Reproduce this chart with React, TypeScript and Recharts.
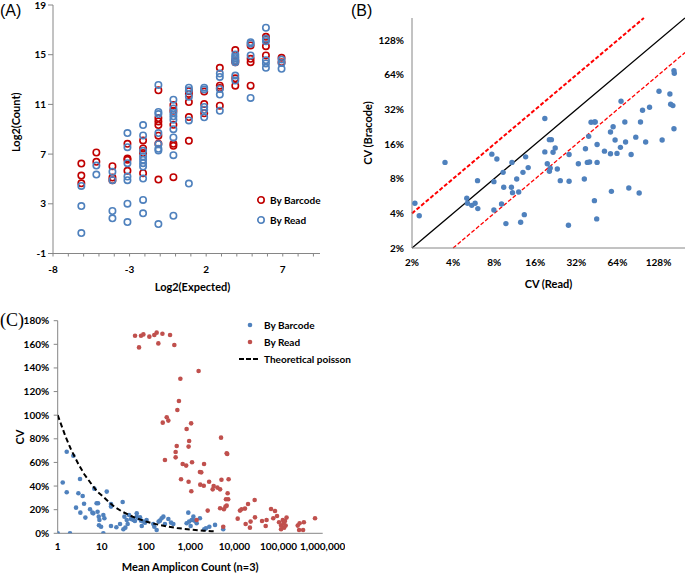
import { ScatterChart, Scatter, XAxis, YAxis, ReferenceLine, Legend, Label } from "recharts"

const FONT = "Lato, 'Liberation Sans', Arial, sans-serif"
const BLUE = "#4f81bd"
const RED_A = "#c00000"
const RED_C = "#c0504d"
const AXIS = "#868686"

// (A) log2 expected vs log2 count, one column of replicates per expected value
const aExpected = [-6.15, -5.17, -4.12, -3.14, -2.12, -1.12, -0.14, 0.87, 1.87, 2.89, 3.9, 4.9, 5.9, 6.92]
const aBarcode = [
  [6.24, 5.27, 4.65],
  [7.13, 6.38],
  [6.03, 5.11, 4.9],
  [7.83, 6.64, 6.54, 5.65],
  [8.1, 7.45, 7.08, 5.46],
  [12.14, 9.9, 9.63, 9.34, 8.48, 7.83, 4.95],
  [10.95, 10.49, 9.36, 7.83, 7.67, 5.14],
  [12.06, 11.84, 11.19, 9.98, 8.07],
  [12.03, 11.03, 10.28],
  [13.94, 12.51, 12.32, 10.9],
  [15.37, 14.53, 14.4, 13.1, 12.51],
  [15.74, 14.67, 14.4, 12.51],
  [16.44, 16.23, 15.69, 14.94],
  [14.75, 14.4],
]
const aRead = [
  [4.44, 2.82, 0.64],
  [6.08, 5.35],
  [5.57, 4.9, 2.42, 1.83],
  [8.69, 7.56, 6.27, 5.19, 4.9, 3.01, 1.53],
  [9.34, 8.5, 7.26, 6.81, 6.54, 6.27, 6.0, 5.03, 3.31, 2.23],
  [12.57, 10.39, 10.22, 8.69, 7.8, 7.43, 7.29, 1.37],
  [11.38, 10.68, 10.31, 10.04, 9.77, 9.01, 8.34, 6.91, 2.04],
  [12.35, 12.14, 11.62, 9.71, 4.63],
  [12.35, 12.19, 10.79, 10.57, 9.96],
  [13.48, 13.21, 12.24, 11.79, 10.49],
  [15.02, 14.83, 14.72, 14.56, 14.4, 13.32, 12.92],
  [16.01, 15.88, 14.94, 11.52],
  [17.17, 16.28, 16.09, 14.56, 14.29, 13.94],
  [14.61, 14.34, 13.86],
]
const aXTicks = [-8, -7, -6, -5, -4, -3, -2, -1, 0, 1, 2, 3, 4, 5, 6, 7, 8, 9]
const aXLabels = [-8, -3, 2, 7]
const aYTicks = [-1, 3, 7, 11, 15, 19]
const aSeries = ["By Barcode", "By Read"]

// (B) CV by read vs CV by barcode, in %
const bRead = [
  2.1, 2.26, 3.49, 5.04, 5.1, 5.48, 5.8, 6.07, 6.04, 7.69, 8.37, 7.96, 7.96, 9.06, 9.3, 9.4, 9.75, 10.8, 10.7, 10.9,
  11.7, 12.1, 12.5, 13, 13.6, 13.3, 14.2, 18.8, 18.8, 19.6, 20.3, 21, 20.3, 20.6, 21.6, 22.4, 23.2, 24.4, 28.3, 28.3,
  28, 33.1, 36.6, 37.3, 38.5, 40, 39.4, 41, 43.4, 44, 43.4, 45.1, 45.4, 45.4, 51.4, 56.9, 56.9, 57.8, 59.5, 61.5,
  63.5, 67.3, 68, 72.5, 73.4, 77.5, 80.6, 87.2, 92.3, 94.4, 97.7, 103, 110, 129, 136, 155, 157, 163, 166, 167, 166,
]
const bBarcode = [
  4.9, 3.82, 11.1, 5.41, 4.9, 4.7, 4.9, 4.4, 7.7, 13.1, 11.9, 7.55, 4.28, 4.83, 9.1, 6.74, 3.26, 11.1, 6.74, 6.06,
  7.97, 6.14, 3.35, 9.1, 12.4, 3.9, 10, 26.7, 13.7, 10.8, 17.5, 17.5, 9.3, 9.9, 13.6, 14.8, 9.73, 7.7, 13, 7.6,
  3.15, 10.8, 7.97, 14.6, 11.1, 11.2, 18.7, 24.8, 24.9, 24.9, 5.16, 3.58, 15.9, 11.1, 13.9, 20.4, 13.2, 6.22, 22.7, 17.4,
  13.3, 15, 37.8, 24.9, 16.7, 6.65, 13, 18.4, 6.02, 24.9, 31.5, 16.7, 33.5, 46.1, 17.4, 43.7, 35.6, 34.6, 69.8, 66.2, 21.8,
]
const bTicks = [2, 4, 8, 16, 32, 64, 128]
const bUpper = [{ x: 2, y: 4 }, { x: 100, y: 200 }]
const bEqual = [{ x: 2, y: 2 }, { x: 200, y: 200 }]
const bLower = [{ x: 4, y: 2 }, { x: 200, y: 100 }]

// (C) mean amplicon count vs CV (%)
const cBarcodeCount = [
  1, 1.3, 1.6, 1.6, 1.9, 2.26, 2.6, 2.94, 3.2, 3.26, 3.68, 3.95, 4.23, 5.4, 6.1, 6.76, 6.4, 7.6, 8.2, 8.0, 8.5, 8.8,
  8.6, 9.6, 10.8, 11.4, 10.8, 12.9, 16.1, 16.1, 16.1, 21.3, 25.8, 29.6, 30.7, 32.4, 34, 36.6, 38.4, 41.2, 45.6, 51.5,
  56, 61.6, 61.6, 67.4, 73.2, 77.1, 80, 87, 94.8, 103, 146, 154, 174, 193, 207, 226, 247, 268, 320, 368, 415, 830, 906,
  946, 1024, 1080, 1180, 1250, 1400, 1660, 2080, 2270, 2710, 3650, 5600,
]
const cBarcodeCv = [
  0, 43, 69, 34.7, 0, 65.7, 21.7, 33.9, 46, 17.5, 31.6, 25, 13.3, 20.3, 17.5, 37.8, 16.9, 25.4, 25.4, 18.3, 14.1, 11.3,
  6.8, 5.6, 15.5, 12.7, 0, 35.3, 24.8, 22.6, 6.2, 5.1, 7.9, 26.5, 3.4, 14.1, 4.8, 11.3, 7.9, 15.5, 12.1, 11.3, 10.4,
  16.9, 14.1, 12.7, 13.5, 10.7, 6.2, 9.9, 9, 11.3, 7.9, 5.6, 2.8, 9.9, 10.7, 12.7, 14.1, 7.9, 12.1, 9, 7.9, 8.5, 17.5,
  9.9, 6.2, 11.3, 14.1, 10.7, 8.5, 12.7, 3.4, 4.2, 5.6, 7.1, 3.4,
]
const cReadCount = [
  56.4, 69.4, 77, 87, 119, 154, 174, 190, 235, 350, 437, 1550, 599, 556, 512, 239, 294, 320, 1050, 830, 946, 920, 495,
  468, 468, 268, 4990, 6700, 6900, 676, 810, 1100, 2060, 620, 920, 1060, 1660, 1780, 1690, 2030, 2680, 3400, 3230, 4130,
  4750, 5100, 7400, 7040, 7250, 6450, 6700, 6300, 5800, 4750, 2490, 1400, 5600, 11900, 13400, 14600, 17400, 20400,
  18000, 22500, 23300, 28800, 29300, 42300, 51200, 53600, 67600, 83200, 76000, 92400, 102600, 114000, 114000, 125000,
  130000, 140000, 134000, 145000, 152000, 272000, 300000, 292000, 360000, 375000, 670000,
]
const cReadCv = [
  167.3, 157.4, 167.3, 168.4, 166.5, 167.9, 169.9, 160.8, 169, 167.9, 159.4, 137.4, 130.9, 112, 104.4, 93.7, 98.2, 95.4,
  93.1, 88.3, 78.2, 73.4, 73.9, 68.8, 64.3, 62.1, 81, 67.7, 67.2, 58.7, 57.3, 60.1, 58.7, 45.7, 43.7, 35.6, 51.9, 51.6,
  41.2, 40.3, 43.7, 40.1, 37.2, 38.7, 37.2, 45.4, 45.7, 33.9, 28.8, 28.8, 23.4, 22.6, 20.3, 21.2, 19.2, 11.3, 5.6, 12.4,
  19.2, 20.3, 20.9, 24.8, 7.9, 4.8, 9.9, 28.2, 13.5, 10.4, 6.2, 11.3, 20.6, 18.9, 12.7, 14.7, 9.3, 6.5, 3.4, 11.3, 8.5,
  10.4, 4.8, 6.5, 13.3, 6.5, 8.5, 2.8, 2.8, 9.3, 12.7,
]
const cPoissonCount = [1, 1.5, 2, 3, 4, 6, 8, 10, 15, 20, 30, 50, 70, 100, 150, 200, 300, 500, 700, 1000, 1500, 2000, 3000, 3700]
const cPoissonCv = [100, 82, 71, 58, 50, 41, 35, 32, 26, 22, 18, 14, 12, 10, 8.2, 7.1, 5.8, 4.5, 3.8, 3.2, 2.6, 2.2, 1.8, 1.6]
const cXTicks = [1, 10, 100, 1000, 10000, 100000, 1000000]
const cYTicks = [0, 20, 40, 60, 80, 100, 120, 140, 160, 180]
const cSeries = ["By Barcode", "By Read", "Theoretical poisson"]

const zip = (xs: number[], ys: number[]) => xs.map((x, i) => ({ x, y: ys[i] }))
const columns = (xs: number[], cols: number[][]) => xs.flatMap((x, i) => cols[i].map((y) => ({ x, y })))

const aBarcodeData = columns(aExpected, aBarcode)
const aReadData = columns(aExpected, aRead)
const bData = zip(bRead, bBarcode)
const cBarcodeData = zip(cBarcodeCount, cBarcodeCv)
const cReadData = zip(cReadCount, cReadCv)
const cPoissonData = zip(cPoissonCount, cPoissonCv)

const tick = { fontSize: 10, fontWeight: 700, fill: "#000", fontFamily: FONT }
const axisLabel = { fontSize: 11, fontWeight: 700, fill: "#000", fontFamily: FONT }

const ring = (color: string) => (p: any) => (
  <circle cx={p.cx} cy={p.cy} r={3.2} fill="none" stroke={color} strokeWidth={1.6} />
)
const dot = (color: string, r: number) => (p: any) => <circle cx={p.cx} cy={p.cy} r={r} fill={color} />
const noDot = () => <g />

const panelTag = (text: string, left: number, top: number, serif?: boolean) => (
  <div
    style={{
      position: "absolute",
      left,
      top,
      fontSize: serif ? 18 : 16,
      fontFamily: serif ? "'Liberation Serif', serif" : "'Liberation Sans', Arial, sans-serif",
      lineHeight: 1,
    }}
  >
    {text}
  </div>
)

const LegendA = () => (
  <div style={{ fontFamily: FONT, fontSize: 10, fontWeight: 700, color: "#000" }}>
    {aSeries.map((name, i) => (
      <div key={name} style={{ display: "flex", alignItems: "center", height: 20 }}>
        <svg width={10} height={10} style={{ marginRight: 4 }}>
          <circle cx={5} cy={5} r={3.2} fill="none" stroke={i === 0 ? RED_A : BLUE} strokeWidth={1.6} />
        </svg>
        {name}
      </div>
    ))}
  </div>
)

const LegendC = () => (
  <div style={{ fontFamily: FONT, fontSize: 10, fontWeight: 700, color: "#000" }}>
    {cSeries.map((name, i) => (
      <div key={name} style={{ display: "flex", alignItems: "center", height: 17 }}>
        <svg width={22} height={10} style={{ marginRight: 4 }}>
          {i < 2 ? (
            <circle cx={12} cy={5} r={2.3} fill={i === 0 ? BLUE : RED_C} />
          ) : (
            <line x1={1} y1={5} x2={21} y2={5} stroke="#000" strokeWidth={2} strokeDasharray="5 2" />
          )}
        </svg>
        {name}
      </div>
    ))}
  </div>
)

export default function App() {
  return (
    <div style={{ position: "fixed", left: 0, top: 0, width: 685, height: 573, overflow: "hidden", background: "#fff" }}>
      {panelTag("(A)", 0, 3)}
      {panelTag("(B)", 351, 3)}
      {panelTag("(C)", 0, 311, true)}

      <div style={{ position: "absolute", left: 0, top: 0 }}>
        <ScatterChart width={330} height={300} margin={{ top: 5, right: 10, bottom: 0, left: 0 }}>
          <XAxis
            type="number"
            dataKey="x"
            domain={[-8, 9.43]}
            ticks={aXTicks}
            interval={0}
            tickFormatter={(v: number) => (aXLabels.includes(v) ? String(v) : "")}
            allowDataOverflow
            stroke={AXIS}
            tickSize={3}
            tickMargin={9}
            height={46.5}
            tick={tick}
          >
            <Label value="Log2(Expected)" position="insideBottom" offset={9} dx={6} {...axisLabel} />
          </XAxis>
          <YAxis
            type="number"
            dataKey="y"
            domain={[-1, 19]}
            ticks={aYTicks}
            interval={0}
            stroke={AXIS}
            tickSize={5}
            tickMargin={2}
            width={53}
            tick={tick}
          >
            <Label value="Log2(Count)" angle={-90} position="center" dx={-10} dy={-7} {...axisLabel} />
          </YAxis>
          <Scatter name={aSeries[0]} data={aBarcodeData} shape={ring(RED_A)} isAnimationActive={false} />
          <Scatter name={aSeries[1]} data={aReadData} shape={ring(BLUE)} isAnimationActive={false} />
          <Legend
            layout="vertical"
            align="center"
            verticalAlign="middle"
            content={LegendA}
            wrapperStyle={{ left: 256, top: 190, width: 80, height: 40 }}
          />
        </ScatterChart>
      </div>

      <div style={{ position: "absolute", left: 340, top: 0 }}>
        <ScatterChart width={345} height={300} margin={{ top: 18, right: 0, bottom: 0, left: 0 }}>
          <XAxis
            type="number"
            dataKey="x"
            scale="log"
            domain={[2, 200]}
            ticks={bTicks}
            interval={0}
            tickFormatter={(v: number) => `${v}%`}
            allowDataOverflow
            stroke={AXIS}
            tickLine={false}
            tickSize={0}
            tickMargin={11}
            height={52}
            tick={tick}
          >
            <Label value="CV (Read)" position="insideBottom" offset={12} {...axisLabel} />
          </XAxis>
          <YAxis
            type="number"
            dataKey="y"
            scale="log"
            domain={[2, 200]}
            ticks={bTicks}
            interval={0}
            tickFormatter={(v: number) => `${v}%`}
            allowDataOverflow
            stroke={AXIS}
            tickLine={false}
            tickSize={0}
            tickMargin={8}
            width={72}
            tick={tick}
          >
            <Label value="CV (Bracode)" angle={-90} position="center" dx={-8} {...axisLabel} />
          </YAxis>
          <ReferenceLine segment={bEqual} stroke="#000" strokeWidth={1.3} />
          <ReferenceLine segment={bUpper} stroke="#ff0000" strokeWidth={2} strokeDasharray="4 2" />
          <ReferenceLine segment={bLower} stroke="#ff0000" strokeWidth={1.3} strokeDasharray="4 2" />
          <Scatter data={bData} shape={dot(BLUE, 2.7)} isAnimationActive={false} />
        </ScatterChart>
      </div>

      <div style={{ position: "absolute", left: 0, top: 300 }}>
        <ScatterChart width={345} height={273} margin={{ top: 20.7, right: 22.3, bottom: 0, left: 0 }}>
          <XAxis
            type="number"
            dataKey="x"
            scale="log"
            domain={[1, 1000000]}
            ticks={cXTicks}
            interval={0}
            tickFormatter={(v: number) => v.toLocaleString("en-US")}
            allowDataOverflow
            stroke={AXIS}
            tickLine={false}
            tickSize={0}
            tickMargin={9.4}
            height={39.7}
            tick={tick}
          >
            <Label value="Mean Amplicon Count (n=3)" position="insideBottom" offset={2} {...axisLabel} />
          </XAxis>
          <YAxis
            type="number"
            dataKey="y"
            domain={[0, 180]}
            ticks={cYTicks}
            interval={0}
            tickFormatter={(v: number) => `${v}%`}
            allowDataOverflow
            stroke={AXIS}
            tickSize={4}
            tickMargin={4.5}
            width={57.7}
            tick={tick}
          >
            <Label value="CV" angle={-90} position="center" dx={-9} dy={10} {...axisLabel} />
          </YAxis>
          <Scatter name={cSeries[0]} data={cBarcodeData} shape={dot(BLUE, 2.3)} isAnimationActive={false} />
          <Scatter name={cSeries[1]} data={cReadData} shape={dot(RED_C, 2.3)} isAnimationActive={false} />
          <Scatter
            name={cSeries[2]}
            data={cPoissonData}
            shape={noDot}
            line={{ stroke: "#000", strokeWidth: 2, strokeDasharray: "5 3" }}
            isAnimationActive={false}
          />
          <Legend
            layout="vertical"
            align="center"
            verticalAlign="middle"
            content={LegendC}
            wrapperStyle={{ left: 238, top: 16, width: 140, height: 51 }}
          />
        </ScatterChart>
      </div>
    </div>
  )
}
